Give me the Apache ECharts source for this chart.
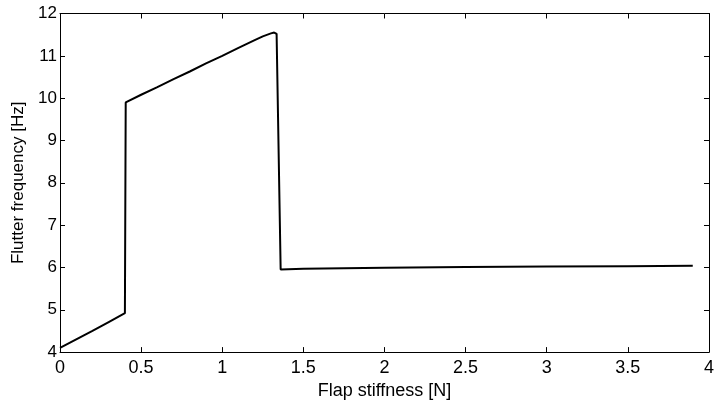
<!DOCTYPE html>
<html>
<head>
<meta charset="utf-8">
<script src="https://cdn.jsdelivr.net/npm/echarts@6/dist/echarts.min.js"></script>
<style>html,body{margin:0;padding:0;background:#fff}#c{width:717px;height:405px}</style>
</head>
<body>
<div id="c"></div>
<script>
var stiffness = [0, 0.1, 0.2, 0.3, 0.4, 0.405, 0.5, 0.6, 0.7, 0.8, 0.9, 1.0, 1.1, 1.2, 1.25, 1.3, 1.32, 1.335, 1.36, 1.5, 2.0, 2.5, 3.0, 3.5, 3.9];
var frequency = [4.1, 4.3, 4.5, 4.71, 4.92, 9.9, 10.08, 10.26, 10.45, 10.63, 10.82, 11.0, 11.19, 11.37, 11.46, 11.53, 11.55, 11.52, 5.95, 5.97, 5.99, 6.01, 6.02, 6.03, 6.04];
var xTicks = ['0', '0.5', '1', '1.5', '2', '2.5', '3', '3.5', '4'];
var yTicks = ['4', '5', '6', '7', '8', '9', '10', '11', '12'];

var font = 'Liberation Sans, Arial, Helvetica, sans-serif';
var chart = echarts.init(document.getElementById('c'), null, {renderer: 'canvas'});
var axisLine = {show: true, onZero: false, lineStyle: {color: '#000', width: 1}};
var tick = {show: true, inside: true, length: 5, lineStyle: {color: '#000'}};
chart.setOption({
  animation: false,
  backgroundColor: '#fff',
  grid: {left: 60, right: 4, top: 13.5, bottom: 46.5, containLabel: false},
  xAxis: [{
    type: 'value', min: 0, max: 4, interval: 0.5, position: 'bottom',
    name: 'Flap stiffness [N]', nameLocation: 'middle', nameGap: 22,
    nameTextStyle: {color: '#000', fontSize: 18, fontFamily: font},
    axisLine: axisLine, axisTick: tick, splitLine: {show: false},
    axisLabel: {color: '#000', fontSize: 18, fontFamily: font, margin: 7,
      formatter: function (v) { return xTicks[Math.round(v / 0.5)]; }}
  }, {
    type: 'value', min: 0, max: 4, interval: 0.5, position: 'top',
    axisLine: axisLine, axisTick: tick, axisLabel: {show: false}, splitLine: {show: false}
  }],
  yAxis: [{
    type: 'value', min: 4, max: 12, interval: 1, position: 'left',
    name: 'Flutter frequency [Hz]', nameLocation: 'middle', nameGap: 29,
    nameTextStyle: {color: '#000', fontSize: 17, fontFamily: font},
    axisLine: axisLine, axisTick: tick, splitLine: {show: false},
    axisLabel: {color: '#000', fontSize: 17, fontFamily: font, margin: 3,
      formatter: function (v) { return yTicks[Math.round(v - 4)]; }}
  }, {
    type: 'value', min: 4, max: 12, interval: 1, position: 'right',
    axisLine: axisLine, axisTick: tick, axisLabel: {show: false}, splitLine: {show: false}
  }],
  series: [{
    type: 'line', xAxisIndex: 0, yAxisIndex: 0, showSymbol: false, symbol: 'none',
    lineStyle: {color: '#000', width: 2},
    data: stiffness.map(function (x, i) { return [x, frequency[i]]; })
  }]
});
</script>
</body>
</html>
